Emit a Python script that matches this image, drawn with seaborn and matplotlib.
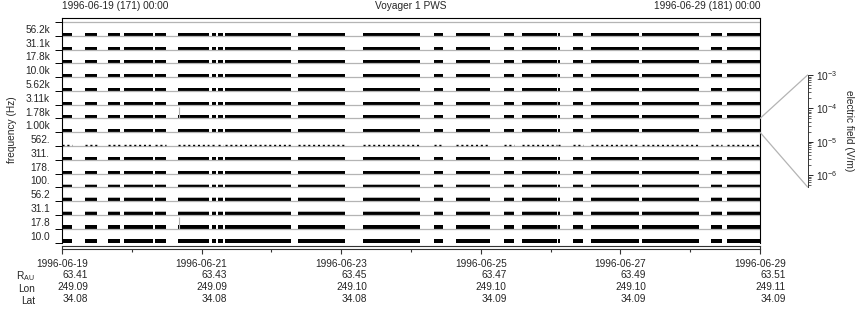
import numpy as np
import pandas as pd
import matplotlib
matplotlib.use("Agg")
import matplotlib.pyplot as plt
import seaborn as sns
from matplotlib.patches import ConnectionPatch
from matplotlib.ticker import NullFormatter, LogLocator, FixedLocator

# ---------------- data ----------------
freq_labels = ["10.0", "17.8", "31.1", "56.2", "100.", "178.", "311.", "562.",
               "1.00k", "1.78k", "3.11k", "5.62k", "10.0k", "17.8k", "31.1k", "56.2k"]
# data coverage segments, hours after 1996-06-19 00:00
seg_start = [0.0, 7.9, 15.9, 21.3, 32.0, 40.0, 51.6, 53.6, 56.0, 81.0, 103.5,
             127.9, 135.5, 152.0, 158.2, 170.5, 175.7, 181.9, 199.4, 223.2, 228.6]
seg_end = [3.6, 11.9, 19.9, 31.2, 35.8, 50.5, 53.1, 55.2, 78.6, 97.3, 123.1,
           131.1, 147.2, 155.4, 170.2, 171.4, 179.1, 198.4, 219.0, 226.9, 240.0]
# isolated spikes: time (h), channel, amplitude (rows)
spike_t = [40.2, 40.2, 170.1, 170.1, 170.1]
spike_ch = [9, 1, 12, 10, 1]
spike_amp = [0.80, 0.85, 0.30, 0.25, 0.30]

tick_dates = ["1996-06-19", "1996-06-21", "1996-06-23", "1996-06-25", "1996-06-27", "1996-06-29"]
r_au = ["63.41", "63.43", "63.45", "63.47", "63.49", "63.51"]
lon = ["249.09", "249.09", "249.10", "249.10", "249.10", "249.11"]
lat = ["34.08", "34.08", "34.08", "34.09", "34.09", "34.09"]

# ---------------- style ----------------
sns.set_style("white")
plt.rcParams["font.family"] = ["Liberation Sans", "DejaVu Sans"]
plt.rcParams["mathtext.fontset"] = "custom"
plt.rcParams["mathtext.rm"] = "Liberation Sans"
plt.rcParams["mathtext.it"] = "Liberation Sans:italic"
plt.rcParams["mathtext.bf"] = "Liberation Sans:bold"
FS = 7.3
GREY = "#b4b4b4"
TXT = "#262626"

W, H = 860, 320
fig = plt.figure(figsize=(W / 100, H / 100), dpi=100)


def rect(x0, y0, x1, y1):
    return [x0 / W, 1 - y1 / H, (x1 - x0) / W, (y1 - y0) / H]


ax = fig.add_axes(rect(62, 18, 760, 242.5))
strip = fig.add_axes(rect(62, 245.5, 760, 249))
cax = fig.add_axes(rect(807, 75, 807.6, 187))

# grey baselines (rows 1..16)
rows = list(range(1, 17))
df = pd.DataFrame({
    "t": [0.0, 240.0] * len(rows),
    "level": [r for r in rows for _ in range(2)],
    "channel": [r for r in rows for _ in range(2)],
})
sns.lineplot(data=df, x="t", y="level", units="channel", estimator=None,
             color=GREY, lw=0.9, ax=ax, legend=False)

segs = [(s, e - s) for s, e in zip(seg_start, seg_end)]
band_h = {0: 0.22, 1: 0.30}
fringe_rows = [2, 3, 4]
for k in range(16):
    if k == 7:
        ax.hlines([k + 0.05] * len(seg_start), seg_start, seg_end, colors="black",
                  lw=1.0, linestyles=(0, (1.5, 2.0)))
        continue
    h = band_h.get(k, 0.22)
    if k in fringe_rows:
        ax.broken_barh(segs, (k, 0.27), facecolors=GREY, edgecolor="none")
        h = 0.20
    ax.broken_barh(segs, (k, h), facecolors="black", edgecolor="none")

ax.vlines(spike_t, spike_ch, [c + a for c, a in zip(spike_ch, spike_amp)],
          colors=GREY, lw=0.8)

ax.set_xlim(0, 240)
ax.set_ylim(0, 16.29)
ax.set_xlabel("")
ax.set_ylabel("")
ax.set_xticks([])
ax.yaxis.set_major_locator(FixedLocator(range(17)))
ax.yaxis.set_major_formatter(NullFormatter())
ax.set_yticks([k + 0.5 for k in range(16)], minor=True)
ax.set_yticklabels(freq_labels, minor=True)
ax.tick_params(axis="y", which="major", direction="out", length=5, width=0.7,
               color="black", left=True)
ax.tick_params(axis="y", which="minor", length=0, pad=8.6, labelsize=FS,
               labelcolor=TXT, left=True)
for side in ["top", "left", "right"]:
    ax.spines[side].set_visible(True)
    ax.spines[side].set_color("black")
    ax.spines[side].set_linewidth(0.8)
ax.spines["bottom"].set_visible(False)

# bottom strip with time axis
strip.set_xlim(0, 240)
strip.set_ylim(0, 1)
strip.set_yticks([])
strip.set_xticks([0, 48, 96, 144, 192, 240])
strip.set_xticks([24, 72, 120, 168, 216], minor=True)
strip.set_xticklabels([f"{d}\n{r}\n{lo}\n{la}" for d, r, lo, la in zip(tick_dates, r_au, lon, lat)])
for lab in strip.get_xticklabels():
    lab.set_multialignment("right")
    lab.set_linespacing(1.2)
strip.tick_params(axis="x", which="major", direction="out", length=3.6, width=0.8,
                  color="#333333", pad=3.5, labelsize=FS, labelcolor=TXT, bottom=True)
strip.tick_params(axis="x", which="minor", direction="out", length=2.2, width=0.8,
                  color="#333333", bottom=True)
for side in strip.spines:
    strip.spines[side].set_visible(True)
    strip.spines[side].set_color("#333333")
    strip.spines[side].set_linewidth(0.8)

# electric field scale
cax.set_yscale("log")
cax.set_ylim(10 ** -6.36, 1e-3)
cax.set_xticks([])
cax.yaxis.tick_right()
cax.yaxis.set_major_locator(FixedLocator([1e-6, 1e-5, 1e-4, 1e-3]))
cax.yaxis.set_minor_locator(LogLocator(base=10, subs=np.arange(2, 10)))
cax.yaxis.set_minor_formatter(NullFormatter())
cax.tick_params(axis="y", which="major", direction="out", length=3.8, width=0.7,
                pad=2, labelsize=FS, labelcolor=TXT, right=True)
cax.tick_params(axis="y", which="minor", direction="out", length=2.0, width=0.5, right=True)
for side in ["left", "top", "bottom"]:
    cax.spines[side].set_visible(False)
cax.spines["right"].set_visible(True)
cax.spines["right"].set_color("#333333")
cax.spines["right"].set_linewidth(0.7)
cax.patch.set_alpha(0)

for ya, yb in [(9, 1), (8, 0)]:
    con = ConnectionPatch(xyA=(240, ya), coordsA=ax.transData,
                          xyB=(1, yb), coordsB=cax.transAxes,
                          color=GREY, lw=0.9)
    fig.add_artist(con)

# texts
fig.text(62 / W, 1 - 6 / H, "1996-06-19 (171) 00:00", ha="left", va="center", fontsize=FS, color=TXT)
fig.text(411 / W, 1 - 6 / H, "Voyager 1 PWS", ha="center", va="center", fontsize=FS, color=TXT)
fig.text(760 / W, 1 - 6 / H, "1996-06-29 (181) 00:00", ha="right", va="center", fontsize=FS, color=TXT)
fig.text(12 / W, 1 - 130 / H, "frequency (Hz)", rotation=90, ha="center", va="center",
         fontsize=FS, color=TXT)
fig.text(849 / W, 1 - 131 / H, "electric field (V/m)", rotation=270, ha="center", va="center",
         fontsize=FS, color=TXT)
for i, lbl in enumerate([r"R$_{\mathrm{AU}}$", "Lon", "Lat"]):
    fig.text(35 / W, 1 - (276.3 + 12.2 * i) / H, lbl, ha="right", va="center",
             fontsize=FS, color=TXT)

fig.savefig("out.png", dpi=100)
